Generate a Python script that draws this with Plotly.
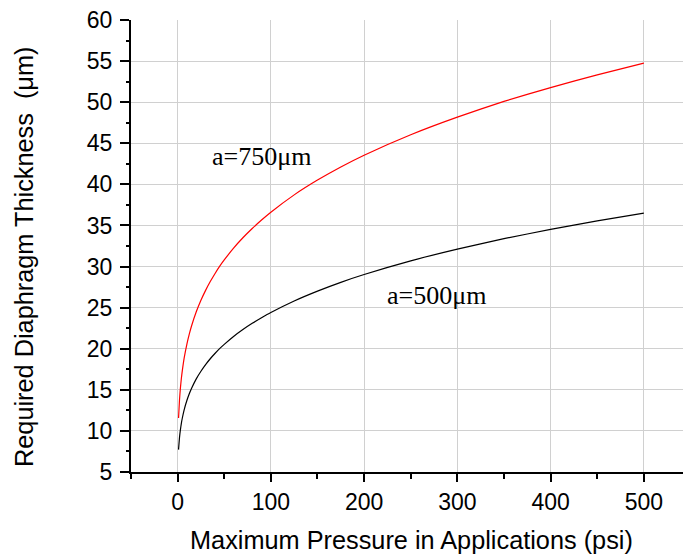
import plotly.graph_objects as go

# Pressure (psi)
pressure = [1, 2, 3, 4, 5, 7, 10, 12.5, 15, 20, 25, 30, 35, 40, 45, 50, 60, 70, 80, 90,
            100, 125, 150, 175, 200, 250, 300, 350, 400, 450, 500]
# Required thickness (um), a = 500 um
thick_500 = [7.72, 9.18, 10.16, 10.92, 11.54, 12.57, 13.73, 14.52, 15.19, 16.33, 17.26, 18.07,
             18.78, 19.42, 20.01, 20.53, 21.49, 22.33, 23.09, 23.77, 24.41, 25.81, 27.01, 28.08,
             29.03, 30.69, 32.12, 33.39, 34.52, 35.55, 36.50]
# Required thickness (um), a = 750 um
thick_750 = [11.58, 13.77, 15.24, 16.38, 17.31, 18.86, 20.60, 21.78, 22.79, 24.49, 25.89, 27.10,
             28.17, 29.13, 30.01, 30.80, 32.24, 33.50, 34.63, 35.66, 36.61, 38.72, 40.52, 42.12,
             43.55, 46.04, 48.18, 50.09, 51.78, 53.32, 54.75]

x_ticks = [0, 100, 200, 300, 400, 500]
y_ticks = [5, 10, 15, 20, 25, 30, 35, 40, 45, 50, 55, 60]
labels = [("a=750μm", 90.4, 43.4), ("a=500μm", 277.1, 26.5)]

XR = [-50, 542]
YR = [5, 60]
font_sans = "Liberation Sans, Arial, sans-serif"
font_serif = "Liberation Serif, Times New Roman, serif"

fig = go.Figure()
fig.add_trace(go.Scatter(x=pressure, y=thick_750, mode="lines",
                         line=dict(color="#ff0000", width=1.2, shape="spline", smoothing=0.5),
                         showlegend=False))
fig.add_trace(go.Scatter(x=pressure, y=thick_500, mode="lines",
                         line=dict(color="#000000", width=1.2, shape="spline", smoothing=0.5),
                         showlegend=False))

for text, xv, yv in labels:
    fig.add_annotation(x=xv, y=yv, text=text, showarrow=False,
                       font=dict(family=font_serif, size=26, color="black"),
                       xanchor="center", yanchor="middle")

# axis titles
fig.add_annotation(xref="paper", yref="paper", x=0, y=0, xshift=411 - 131, yshift=-(540 - 472),
                   text="Maximum Pressure in Applications (psi)", showarrow=False,
                   font=dict(family=font_sans, size=25.3, color="black"),
                   xanchor="center", yanchor="middle")
fig.add_annotation(xref="paper", yref="paper", x=0, y=0, xshift=-(131 - 24), yshift=472 - 257,
                   text="Required Diaphragm Thickness  (μm)", showarrow=False, textangle=-90,
                   font=dict(family=font_sans, size=25.3, color="black"),
                   xanchor="center", yanchor="middle")

fig.update_layout(
    width=683, height=555,
    margin=dict(l=131, r=0, t=20, b=83),
    paper_bgcolor="white", plot_bgcolor="white",
    xaxis=dict(range=XR, tickmode="array", tickvals=x_ticks, ticktext=[str(v) for v in x_ticks],
               ticks="outside", ticklen=8, tickwidth=2, tickcolor="black",
               showline=True, linecolor="black", linewidth=2,
               showgrid=True, gridcolor="#d0d0d0", gridwidth=1, zeroline=False,
               tickfont=dict(family=font_sans, size=23, color="black"), ticklabelstandoff=0,
               minor=dict(tickmode="linear", tick0=50, dtick=100, ticks="outside", ticklen=5,
                          tickwidth=2, tickcolor="black", showgrid=False)),
    yaxis=dict(range=YR, tickmode="array", tickvals=y_ticks, ticktext=[str(v) for v in y_ticks],
               ticks="outside", ticklen=9, tickwidth=2, tickcolor="black",
               showline=True, linecolor="black", linewidth=2,
               showgrid=True, gridcolor="#d0d0d0", gridwidth=1, zeroline=False,
               tickfont=dict(family=font_sans, size=23, color="black"), ticklabelstandoff=3,
               minor=dict(tickmode="linear", tick0=7.5, dtick=5, ticks="outside", ticklen=3.5,
                          tickwidth=2, tickcolor="black", showgrid=False)),
    xaxis2=dict(range=XR, overlaying="x", side="top", tickmode="array", tickvals=x_ticks,
                ticks="inside", ticklen=10, tickwidth=2, tickcolor="black",
                showticklabels=False, showline=True, linecolor="black", linewidth=2,
                showgrid=False, zeroline=False,
                minor=dict(tickmode="linear", tick0=50, dtick=100, ticks="inside", ticklen=5,
                           tickwidth=2, tickcolor="black", showgrid=False)),
    yaxis2=dict(range=YR, overlaying="y", side="right", tickmode="array", tickvals=y_ticks,
                ticks="inside", ticklen=2, tickwidth=2, tickcolor="black",
                showticklabels=False, showline=False, showgrid=False, zeroline=False),
)

fig.write_html("out.html")
